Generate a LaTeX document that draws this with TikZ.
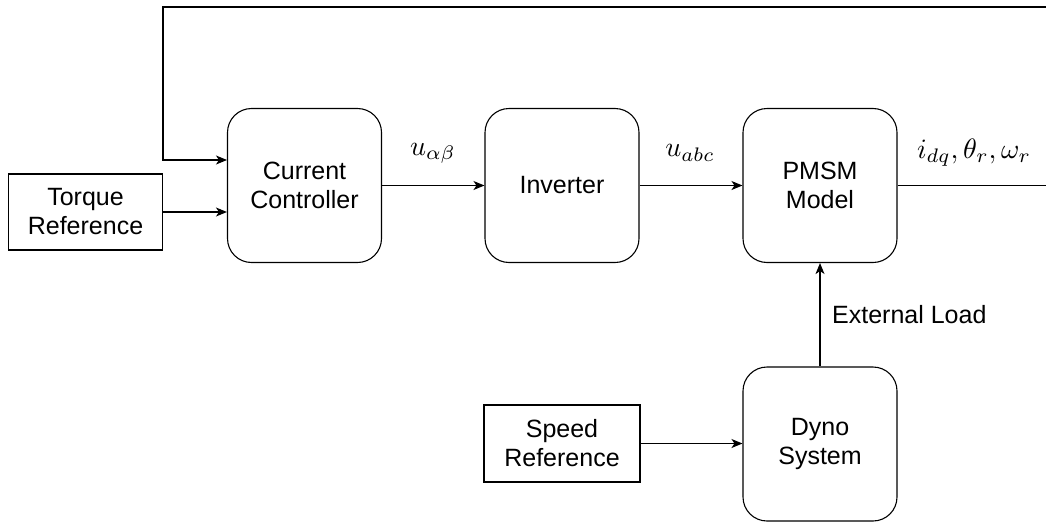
\documentclass[tikz,border=0pt]{standalone}
\usepackage[no-math]{fontspec}
\setmainfont{Liberation Sans}
\usetikzlibrary{arrows.meta}
\tikzset{
  blk/.style={draw, line width=1.1pt, rounded corners=24pt, minimum width=154pt, minimum height=154pt, inner sep=0pt, align=center, font=\fontsize{25}{29}\selectfont},
  refbox/.style={draw, line width=1.1pt, minimum width=154pt, minimum height=76pt, inner sep=0pt, align=center, font=\fontsize{25}{29}\selectfont},
  arr/.style={line width=1.1pt, -{Stealth[length=11pt, width=9pt, inset=3pt]}},
  mlab/.style={inner sep=0pt},
  tlab/.style={font=\fontsize{25}{29}\selectfont, inner sep=0pt}
}
\newcommand{\mylabelmath}[1]{\scalebox{2.8}{$#1$}}
\begin{document}
\begin{tikzpicture}[x=1pt, y=-1pt]
\useasboundingbox (0,0) rectangle (1046,522);
\node[refbox] (torque) at (85.5,212) {Torque\\Reference};
\node[blk] (cc) at (304.5,185.5) {Current\\Controller};
\node[blk] (inv) at (562,185.5) {Inverter};
\node[blk] (pmsm) at (820,185.5) {PMSM\\Model};
\node[blk] (dyno) at (820,444) {Dyno\\System};
\node[refbox, minimum width=156pt, minimum height=77pt] (speed) at (562,443.5) {Speed\\Reference};
\coordinate (fbR) at (1048,7);
\coordinate (fbL) at (163,7);
\coordinate (fbin) at (227,160);
\draw[arr] (torque.east) -- (torque.east -| cc.west);
\draw[arr] (cc.east) -- (inv.west);
\draw[arr] (inv.east) -- (pmsm.west);
\draw[arr] (pmsm.east) -| (fbR) -- (fbL) |- (fbin);
\draw[arr] (speed.east) -- (speed.east -| dyno.west);
\draw[arr] (dyno.north) -- (pmsm.south);
\node[mlab] (lab1) at (433,153) {\mylabelmath{u_{\alpha\beta}}};
\node[mlab] (lab2) at (690,153) {\mylabelmath{u_{abc}}};
\node[mlab] (lab3) at (974,153) {\mylabelmath{i_{dq},\theta_r,\omega_r}};
\node[tlab, anchor=west] (lab4) at (832,315) {External Load};
\end{tikzpicture}
\end{document}
